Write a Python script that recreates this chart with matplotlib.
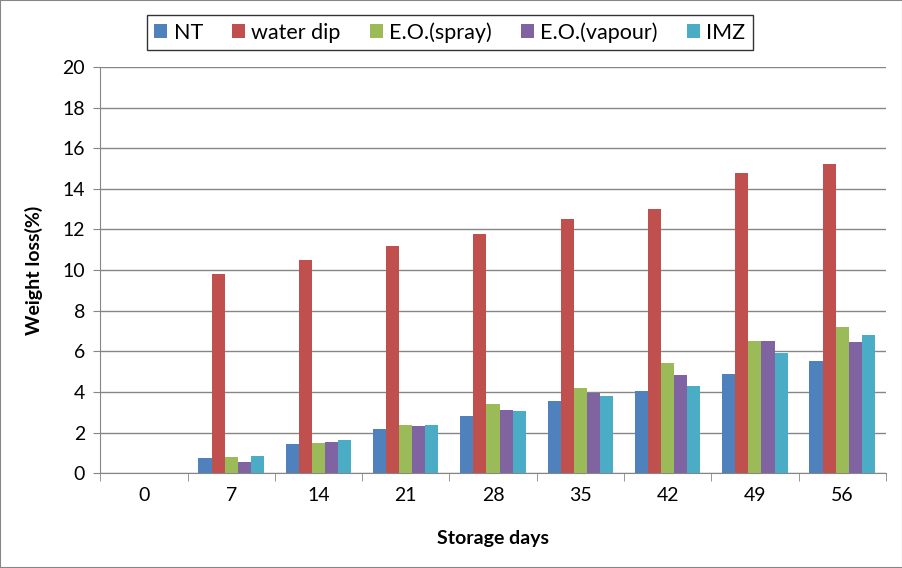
import numpy as np
import matplotlib.pyplot as plt

# Data
days = ["0", "7", "14", "21", "28", "35", "42", "49", "56"]
series_names = ["NT", "water dip", "E.O.(spray)", "E.O.(vapour)", "IMZ"]
nt = [0, 0.74, 1.43, 2.17, 2.8, 3.55, 4.04, 4.88, 5.52]
water_dip = [0, 9.8, 10.5, 11.2, 11.8, 12.5, 13.0, 14.8, 15.2]
eo_spray = [0, 0.8, 1.48, 2.36, 3.4, 4.18, 5.42, 6.5, 7.19]
eo_vapour = [0, 0.55, 1.53, 2.3, 3.1, 3.94, 4.83, 6.5, 6.45]
imz = [0, 0.85, 1.63, 2.36, 3.05, 3.8, 4.29, 5.91, 6.8]

colors = ["#4F81BD", "#C0504D", "#9BBB59", "#8064A2", "#4BACC6"]

plt.rcParams['font.family'] = ['Lato', 'DejaVu Sans']

fig = plt.figure(figsize=(9.03, 5.68), dpi=100)
ax = fig.add_axes([0.111, 0.167, 0.870, 0.715])

x = np.arange(len(days))
width = 0.15
all_series = [nt, water_dip, eo_spray, eo_vapour, imz]
for i, (vals, name, c) in enumerate(zip(all_series, series_names, colors)):
    ax.bar(x + (i - 2) * width, vals, width, color=c, label=name, zorder=3)

ax.set_xlim(-0.5, len(days) - 0.5)
ax.set_ylim(0, 20)
ax.set_yticks(np.arange(0, 21, 2))
ax.yaxis.grid(True, color="#868686", linewidth=1, zorder=0)

ax.set_xticks(x)
ax.set_xticklabels(days, fontsize=14)
ax.tick_params(axis="x", length=0, pad=10)
ax.set_xticks(np.arange(-0.5, len(days), 1), minor=True)
ax.tick_params(axis="x", which="minor", length=6, color="#868686", direction="out")
ax.tick_params(axis="y", labelsize=14, length=5, color="#868686", direction="out", pad=6)

for side in ["top", "right"]:
    ax.spines[side].set_visible(False)
for side in ["left", "bottom"]:
    ax.spines[side].set_color("#868686")

ax.set_xlabel("Storage days", fontsize=14, fontweight="bold", labelpad=19)
ax.set_ylabel("Weight loss(%)", fontsize=14, fontweight="bold", labelpad=14)

leg = fig.legend(loc="upper center", bbox_to_anchor=(0.498, 0.993), ncol=5,
                 fontsize=15.5, frameon=True, fancybox=False, edgecolor="black",
                 handlelength=0.6, handleheight=0.6, handletextpad=0.3,
                 columnspacing=1.35, borderpad=0.35)
leg.get_frame().set_linewidth(1.0)

fig.patches.append(plt.Rectangle((0, 0), 1, 1, transform=fig.transFigure,
                                 fill=False, edgecolor="#868686", linewidth=1.5))

fig.savefig("out.png", dpi=100)
